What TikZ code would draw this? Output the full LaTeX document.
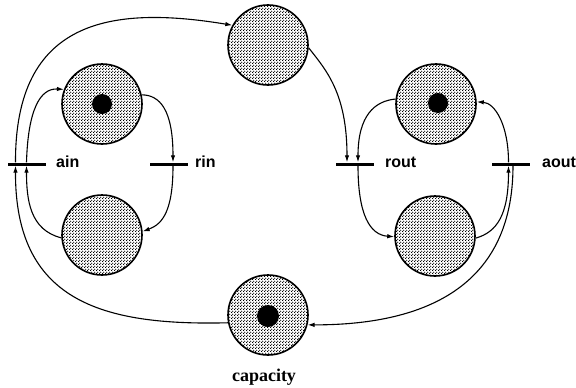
\documentclass[tikz,border=0pt]{standalone}
\usepackage{fontspec}
\setmainfont{Liberation Serif}
\setsansfont{Liberation Sans}
\usetikzlibrary{arrows.meta,patterns}
\pgfdeclarepatternformonly{petridots}{\pgfpointorigin}{\pgfpoint{3pt}{3pt}}{\pgfpoint{3pt}{3pt}}{%
  \pgfpathcircle{\pgfpoint{0.75pt}{0.75pt}}{0.85pt}%
  \pgfpathcircle{\pgfpoint{2.25pt}{2.25pt}}{0.85pt}%
  \pgfusepath{fill}}
\begin{document}
\begin{tikzpicture}[x=1pt,y=-1pt,
  place/.style={circle,draw=black,line width=1.6pt,minimum size=80pt,inner sep=0pt,
    preaction={fill=white},pattern=petridots},
  token/.style={circle,fill=black,inner sep=0pt},
  trans/.style={rectangle,fill=black,minimum width=38pt,minimum height=3pt,inner sep=0pt},
  tlabel/.style={font=\sffamily\bfseries\fontsize{16}{16}\selectfont,anchor=base west,inner sep=0pt},
  plabel/.style={font=\rmfamily\bfseries\fontsize{18}{18}\selectfont,anchor=base,inner sep=0pt},
  arc/.style={line width=1.1pt,-{Latex[length=7pt,width=4.5pt]}}]
\useasboundingbox (0,0) rectangle (576,388);

% places
\node[place] (P1) at (102,104) {};
\node[place] (P2) at (102,235) {};
\node[place] (P3) at (268,45) {};
\node[place] (P4) at (436,104) {};
\node[place] (P5) at (435,236) {};
\node[place] (P6) at (268,315) {};

% tokens
\node[token,minimum size=20pt] (T1) at (P1) {};
\node[token,minimum size=20pt] (T4) at (438,103) {};
\node[token,minimum size=22pt] (T6) at (268,316) {};

% transitions
\node[trans] (ain) at (26.5,164) {};
\node[trans] (rin) at (169,164) {};
\node[trans] (rout) at (355,164) {};
\node[trans] (aout) at (511,164) {};

% labels
\node[tlabel] (lain) at (56,167.5) {ain};
\node[tlabel] (lrin) at (195,167.5) {rin};
\node[tlabel] (lrout) at (385,167.5) {rout};
\node[tlabel] (laout) at (542,167.5) {aout};
\node[plabel] (lcap) at (264,381) {capacity};

% arcs left
\draw[arc] (P1.13) .. controls (160,95) and (173,110) .. ([xshift=4pt]rin.north);
\draw[arc] ([xshift=4pt]rin.south) .. controls (173,210) and (163,224) .. (P2.5);
\draw[arc] (P2.184) .. controls (30,230) and (26.5,200) .. (ain.south);
\draw[arc] (ain.north) .. controls (28,110) and (40,88) .. (P1.159);
\draw[arc] ([xshift=-11pt]ain.north) .. controls (15,20) and (110,5) .. (P3.151);
\draw[arc] (P6.191) .. controls (100,326) and (15,300) .. ([xshift=-11pt]ain.south);

% arcs right
\draw[arc] (P3.-4) .. controls (326,70) and (347,93) .. ([xshift=-8pt]rout.north);
\draw[arc] (P4.173) .. controls (375,101) and (358,115) .. ([xshift=3pt]rout.north);
\draw[arc] ([xshift=3pt]rout.south) .. controls (358,215) and (370,235) .. (P5.181);
\draw[arc] (P5.-3) .. controls (497,232) and (508.5,215) .. ([xshift=-2.5pt]aout.south);
\draw[arc] ([xshift=-2.5pt]aout.north) .. controls (508.5,125) and (495,103) .. (P4.3);
\draw[arc] ([xshift=2pt]aout.south) .. controls (513,290) and (420,325) .. (P6.-14);
\end{tikzpicture}
\end{document}
